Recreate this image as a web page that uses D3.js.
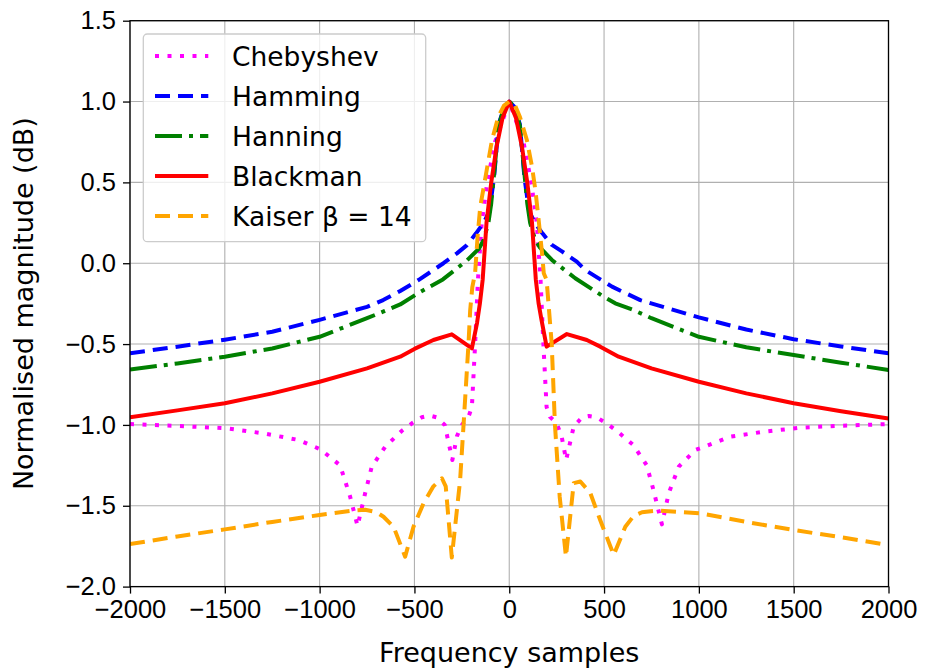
<!DOCTYPE html>
<html>
<head>
<meta charset="utf-8">
<script src="https://cdn.jsdelivr.net/npm/d3@7"></script>
<style>
  body { margin: 0; background: #fff; }
  svg { display: block; font-family: "DejaVu Sans", sans-serif; }
</style>
</head>
<body>
<svg id="chart"></svg>
<script>
// values
const freqCheb = [-2000, -1736, -1490, -1297, -1112, -997, -892, -839, -800, -760, -725, -654, -566, -513, -461, -420, -384, -340, -300, -276, -250, -215, -197, -180, -165, -145, -116, -75, 0,
  75, 116, 145, 165, 180, 197, 215, 250, 276, 300, 340, 384, 420, 461, 513, 566, 654, 725, 760, 805, 841, 894, 982, 1166, 1342, 1536, 1747, 2000];
const magCheb = [-0.995, -1.007, -1.021, -1.052, -1.093, -1.15, -1.25, -1.444, -1.625, -1.423, -1.258, -1.135, -1.036, -0.99, -0.953, -0.942, -0.953, -1.0, -1.217, -1.07, -1.0, -0.95, -0.89, -0.5, -0.1, 0.25, 0.5, 0.75, 1.0,
  0.75, 0.5, 0.25, -0.1, -0.5, -0.89, -0.95, -0.99, -1.07, -1.217, -1.01, -0.953, -0.945, -0.953, -0.99, -1.036, -1.124, -1.25, -1.4, -1.615, -1.423, -1.258, -1.155, -1.073, -1.042, -1.017, -1.005, -0.995];

const freqHamming = [-2000, -1750, -1500, -1250, -1000, -750, -665, -575, -479, -400, -347, -276, -223, -175, -135, -105, -80, -56, -25, 0,
  25, 56, 80, 105, 135, 175, 223, 276, 356, 401, 480, 542, 691, 1000, 1250, 1500, 1750, 2000];
const magHamming = [-0.557, -0.516, -0.473, -0.424, -0.35, -0.27, -0.228, -0.172, -0.104, -0.042, 0.0, 0.061, 0.112, 0.185, 0.25, 0.32, 0.53, 0.86, 0.97, 1.0,
  0.97, 0.86, 0.53, 0.32, 0.25, 0.185, 0.115, 0.075, 0.01, -0.042, -0.1, -0.145, -0.228, -0.335, -0.41, -0.47, -0.515, -0.557];

const freqHanning = [-2000, -1750, -1500, -1250, -1000, -750, -656, -575, -480, -350, -225, -160, -135, -110, -95, -56, -25, 0,
  25, 56, 95, 110, 135, 160, 225, 348, 489, 559, 656, 750, 1000, 1250, 1500, 1750, 2000];
const magHanning = [-0.657, -0.62, -0.578, -0.527, -0.455, -0.34, -0.295, -0.255, -0.185, -0.1, 0.015, 0.09, 0.144, 0.25, 0.37, 0.85, 0.97, 1.0,
  0.97, 0.85, 0.37, 0.25, 0.15, 0.1, 0.02, -0.093, -0.2, -0.248, -0.29, -0.34, -0.455, -0.52, -0.568, -0.615, -0.66];

const freqBlackman = [-2000, -1750, -1500, -1250, -1000, -750, -575, -500, -400, -303, -197, -170, -155, -140, -120, -95, -67, -35, 0,
  35, 67, 95, 120, 140, 155, 170, 197, 304, 409, 480, 577, 750, 1000, 1250, 1500, 1750, 2000];
const magBlackman = [-0.953, -0.91, -0.866, -0.805, -0.733, -0.65, -0.578, -0.53, -0.475, -0.44, -0.526, -0.37, -0.25, -0.1, 0.25, 0.5, 0.72, 0.9, 1.0,
  0.9, 0.72, 0.5, 0.25, -0.1, -0.25, -0.35, -0.516, -0.438, -0.475, -0.516, -0.578, -0.65, -0.733, -0.805, -0.866, -0.915, -0.96];

const freqKaiser = [-2000, -1750, -1500, -1250, -1000, -822, -760, -700, -663, -610, -549, -505, -452, -400, -355, -335, -303, -259, -241, -215, -206, -195, -180, -167, -153, -125, -91, -58, -28, 0,
  30, 56, 93, 120, 138, 155, 173, 182, 197, 224, 241, 266, 299, 340, 375, 427, 480, 533, 551, 612, 656, 700, 779, 1008, 1250, 1500, 1750, 2000];
const magKaiser = [-1.737, -1.69, -1.646, -1.6, -1.557, -1.53, -1.525, -1.54, -1.568, -1.63, -1.815, -1.63, -1.485, -1.38, -1.33, -1.38, -1.82, -1.34, -1.0, -0.5, -0.29, -0.15, -0.06, 0.164, 0.35, 0.535, 0.762, 0.906, 0.975, 1.0,
  0.978, 0.906, 0.762, 0.597, 0.45, 0.267, 0.061, -0.062, -0.103, -0.5, -1.0, -1.444, -1.815, -1.36, -1.35, -1.42, -1.59, -1.75, -1.805, -1.63, -1.563, -1.54, -1.53, -1.547, -1.6, -1.65, -1.695, -1.743];

const xTicks = [-2000, -1500, -1000, -500, 0, 500, 1000, 1500, 2000];
const yTicks = [-2.0, -1.5, -1.0, -0.5, 0.0, 0.5, 1.0, 1.5];

const series = [
  { label: 'Chebyshev', freq: freqCheb, mag: magCheb, color: '#ff00ff', dash: '4,8.5' },
  { label: 'Hamming', freq: freqHamming, mag: magHamming, color: '#0000ff', dash: '15,8' },
  { label: 'Hanning', freq: freqHanning, mag: magHanning, color: '#008000', dash: '27,7,4,7' },
  { label: 'Blackman', freq: freqBlackman, mag: magBlackman, color: '#ff0000', dash: null },
  { label: 'Kaiser β = 14', freq: freqKaiser, mag: magKaiser, color: '#ffa500', dash: '15,8' }
];

const width = 927, height = 670;
const pLeft = 130, pRight = 888.5, pTop = 20.7, pBottom = 586.6;

const svg = d3.select('#chart').attr('width', width).attr('height', height);

const x = d3.scaleLinear().domain([-2000, 2000]).range([pLeft, pRight]);
const y = d3.scaleLinear().domain([-2, 1.5]).range([pBottom, pTop]);

// grid
const grid = svg.append('g').attr('stroke', '#b0b0b0').attr('stroke-width', 1.1);
grid.selectAll('.gx').data(xTicks).enter().append('line')
  .attr('x1', d => x(d)).attr('x2', d => x(d)).attr('y1', pTop).attr('y2', pBottom);
grid.selectAll('.gy').data(yTicks).enter().append('line')
  .attr('x1', pLeft).attr('x2', pRight).attr('y1', d => y(d)).attr('y2', d => y(d));

// lines
svg.append('defs').append('clipPath').attr('id', 'clip')
  .append('rect').attr('x', pLeft).attr('y', pTop).attr('width', pRight - pLeft).attr('height', pBottom - pTop);

const line = d3.line().curve(d3.curveLinear);
const plot = svg.append('g').attr('clip-path', 'url(#clip)');
series.forEach(s => {
  plot.append('path')
    .attr('d', line(s.freq.map((f, i) => [x(f), y(s.mag[i])])))
    .attr('fill', 'none')
    .attr('stroke', s.color)
    .attr('stroke-width', 4)
    .attr('stroke-dasharray', s.dash)
    .attr('stroke-linejoin', 'round');
});

// axes
const xAxis = d3.axisBottom(x).tickValues(xTicks).tickSize(7).tickPadding(6).tickFormat(d3.format('d'));
const yAxis = d3.axisLeft(y).tickValues(yTicks).tickSize(7).tickPadding(7).tickFormat(d3.format('.1f'));

const gx = svg.append('g').attr('transform', `translate(0,${pBottom})`).call(xAxis);
const gy = svg.append('g').attr('transform', `translate(${pLeft},0)`).call(yAxis);
[gx, gy].forEach(g => {
  g.select('.domain').remove();
  g.selectAll('line').attr('stroke', '#000').attr('stroke-width', 1.3);
  g.selectAll('text').attr('fill', '#000').style('font-size', '25.5px');
});

// frame
svg.append('rect').attr('x', pLeft).attr('y', pTop).attr('width', pRight - pLeft).attr('height', pBottom - pTop)
  .attr('fill', 'none').attr('stroke', '#000').attr('stroke-width', 1.3);

// axis labels
svg.append('text').attr('x', (pLeft + pRight) / 2).attr('y', 662)
  .attr('text-anchor', 'middle').style('font-size', '27px').text('Frequency samples');
svg.append('text').attr('transform', `translate(33,${(pTop + pBottom) / 2}) rotate(-90)`)
  .attr('text-anchor', 'middle').style('font-size', '27px').text('Normalised magnitude (dB)');

// legend
const lg = svg.append('g');
lg.append('rect').attr('x', 143.3).attr('y', 34).attr('width', 282.4).attr('height', 207.7).attr('rx', 4)
  .attr('fill', '#fff').attr('fill-opacity', 0.8).attr('stroke', '#cccccc').attr('stroke-width', 1.3);
series.forEach((s, i) => {
  const cy = 56 + i * 40;
  lg.append('line').attr('x1', 155).attr('x2', 208.3).attr('y1', cy).attr('y2', cy)
    .attr('stroke', s.color).attr('stroke-width', 4).attr('stroke-dasharray', s.dash);
  lg.append('text').attr('x', 232).attr('y', cy + 9.7).style('font-size', '26.5px').text(s.label);
});
</script>
</body>
</html>
